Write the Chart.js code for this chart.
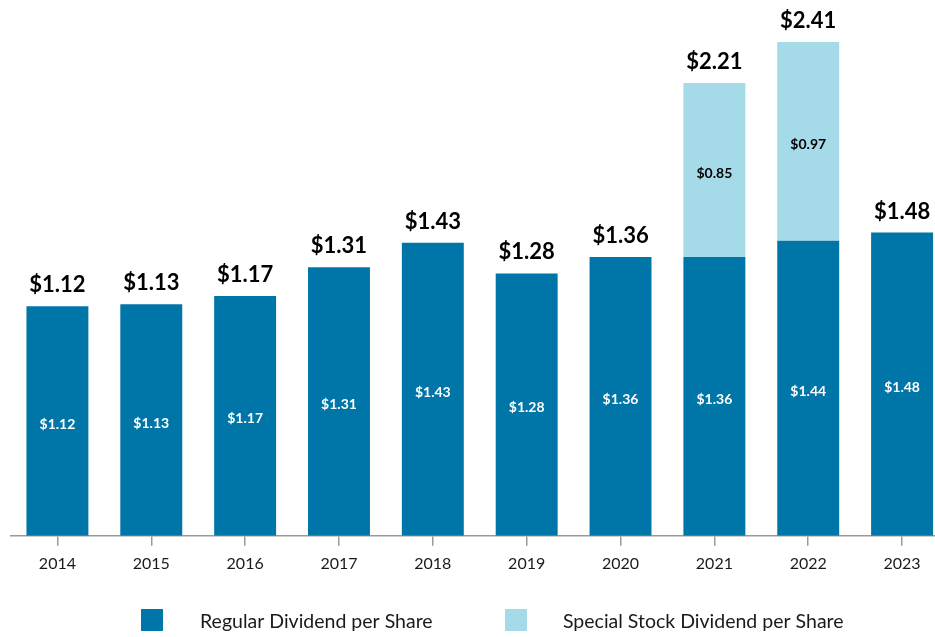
<!DOCTYPE html>
<html>
<head>
<meta charset="utf-8">
<script src="https://cdn.jsdelivr.net/npm/chart.js@4/dist/chart.umd.min.js"></script>
<style>
  html, body { margin: 0; padding: 0; background: #fff; overflow: hidden; }
  #wrap { width: 950px; height: 637px; }
</style>
</head>
<body>
<div id="wrap"><canvas id="divChart"></canvas></div>
<script>
// Chart data
const years = ['2014', '2015', '2016', '2017', '2018', '2019', '2020', '2021', '2022', '2023'];
const regular = [1.12, 1.13, 1.17, 1.31, 1.43, 1.28, 1.36, 1.36, 1.44, 1.48];
const special = [0, 0, 0, 0, 0, 0, 0, 0.85, 0.97, 0];
const totals = [1.12, 1.13, 1.17, 1.31, 1.43, 1.28, 1.36, 2.21, 2.41, 1.48];

const FONT = 'Lato, "Open Sans", sans-serif';
const DARK = '#0076a8';
const LIGHT = '#a5dbe8';

const fmt = v => '$' + v.toFixed(2);

// Draw value labels and the legend
const labelPlugin = {
    id: 'valueLabels',
    afterDatasetsDraw(chart) {
        const ctx = chart.ctx;
        ctx.save();
        ctx.textAlign = 'center';
        ctx.textBaseline = 'middle';

        // inside labels
        chart.data.datasets.forEach((ds, di) => {
            const meta = chart.getDatasetMeta(di);
            meta.data.forEach((bar, i) => {
                const v = ds.data[i];
                if (!v) return;
                const mid = (bar.y + bar.base) / 2 + 3;
                ctx.font = 'bold 14px ' + FONT;
                ctx.fillStyle = di === 0 ? '#ffffff' : '#000000';
                ctx.fillText(fmt(v), bar.x, mid);
            });
        });

        // totals on top
        const top = chart.getDatasetMeta(1);
        ctx.font = 'bold 22px ' + FONT;
        ctx.fillStyle = '#000000';
        ctx.textBaseline = 'alphabetic';
        totals.forEach((t, i) => {
            const x = top.data[i].x;
            const y = chart.scales.y.getPixelForValue(t);
            ctx.fillText(fmt(t), x, y - 14);
        });

        // legend
        const items = [
            { x: 141, tx: 200 },
            { x: 505, tx: 563 }
        ];
        ctx.textAlign = 'left';
        ctx.textBaseline = 'middle';
        ctx.font = '19.5px ' + FONT;
        chart.data.datasets.forEach((ds, di) => {
            ctx.fillStyle = ds.backgroundColor;
            ctx.fillRect(items[di].x, 609, 22, 22);
            ctx.fillStyle = '#1a1a1a';
            ctx.fillText(ds.label, items[di].tx, 622);
        });
        ctx.restore();
    }
};

new Chart(document.getElementById('divChart'), {
    type: 'bar',
    data: {
        labels: years,
        datasets: [
            { label: 'Regular Dividend per Share', data: regular, backgroundColor: DARK },
            { label: 'Special Stock Dividend per Share', data: special, backgroundColor: LIGHT }
        ]
    },
    options: {
        responsive: true,
        maintainAspectRatio: false,
        animation: false,
        categoryPercentage: 1,
        barPercentage: 0.66,
        layout: { padding: { left: 10.5, right: 1, top: 3, bottom: 56 } },
        plugins: {
            legend: { display: false },
            tooltip: { enabled: false }
        },
        scales: {
            x: {
                stacked: true,
                grid: {
                    offset: false,
                    drawOnChartArea: false,
                    tickLength: 10,
                    color: '#999999',
                    lineWidth: 1.5
                },
                border: { color: '#999999', width: 1.5 },
                ticks: {
                    color: '#1a1a1a',
                    font: { family: FONT, size: 16 },
                    padding: 8
                }
            },
            y: {
                stacked: true,
                display: false,
                min: 0,
                max: 2.6
            }
        }
    },
    plugins: [labelPlugin]
});
</script>
</body>
</html>
